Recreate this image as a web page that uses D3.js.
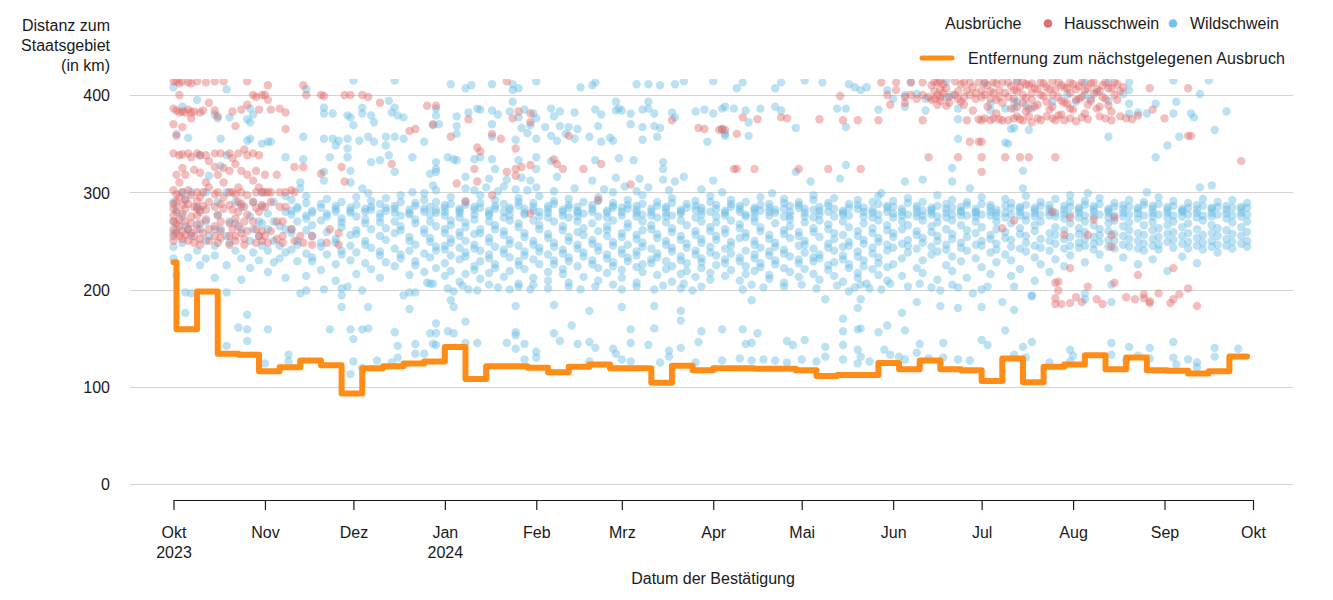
<!DOCTYPE html>
<html><head><meta charset="utf-8">
<script src="https://cdn.jsdelivr.net/npm/d3@7"></script>
<style>
body{margin:0;background:#fff;}
svg{font-family:"Liberation Sans",Arial,sans-serif;}
</style></head><body>
<svg id="chart" width="1333" height="600"></svg>
<script>
// ---------- DATA ----------
const startDate = new Date(2023, 9, 1);
const endDate = new Date(2024, 9, 1);
const yTicks = [0, 100, 200, 300, 400];
const monthLabels = ["Okt","Nov","Dez","Jan","Feb","Mrz","Apr","Mai","Jun","Jul","Aug","Sep","Okt"];
const yearLabels = {0: "2023", 3: "2024"};
const yTitle = ["Distanz zum", "Staatsgebiet", "(in km)"];
const xTitle = "Datum der Bestätigung";

// Entfernung zum nächstgelegenen Ausbruch (day offset from 1 Oct 2023, km)
const distanceDays = [0,1,8,15,22,29,36,43,50,57,64,71,78,85,92,99,106,113,120,127,134,141,148,155,162,169,176,183,190,197,204,211,218,225,232,239,246,253,260,267,274,281,288,295,302,309,316,323,330,337,344,351,358,364];
const distanceKm = [228,159,198,134,133,116,120,127,122,93,119,121,124,126,141,108,121,121,119.5,115,120.5,123,119,119,104,121.5,117,119,119,118.5,118.5,117,111,112,112,124.5,118,127,118,117,106,129,104.5,120.5,123,132.5,118,130,117,116.5,113.5,116,131,131];

// Hausschwein outbreaks: [day offset, [km, ...]]
const hausschwein = [
[0,[414,386,370,340,302,288,283,276,270,262,255,250]],[1,[414,384,358,318,298,290,280,268,258]],
[2,[412,400,382,338,310,295,272,265,255]],[3,[414,383,367,339,325,300,287,278,260,252]],
[4,[382,318,292,283,270,256]],[5,[413,385,340,302,288,262,250]],[6,[412,382,376,336,297,275,268,258]],
[7,[383,323,285,255,248]],[8,[414,340,300,291,283,276,262]],[9,[382,338,320,295,280,268,252,246]],
[10,[384,300,286,258]],[11,[413,338,310,282,272]],[12,[392,332,305,290,262,250]],
[14,[414,384,340,326,298,285,265,255]],[15,[378,318,300,277,248]],[16,[340,288,270,260,253]],
[17,[414,325,310,295,283]],[19,[340,322,300,287,268,255,246]],[20,[383,335,300,282,262]],
[21,[368,329,298,273,255,250]],[22,[340,305,290,280,265]],[23,[385,322,300,288,258]],
[24,[344,285,270,252,246]],[25,[414,390,338,318,297,277,260]],[27,[400,340,312,290,270]],
[28,[398,322,300,284,262,248]],[29,[385,338,305,280,255]],[30,[400,300,287,260,250]],
[31,[400,318,300,285,255]],[32,[410,395,300,248]],[33,[385,300,290,260]],[35,[318,270,252]],
[36,[386,300,285]],[37,[270,255,248]],[38,[382,365,300,285]],[40,[302,262]],[41,[326,300,250]],
[43,[255]],[44,[410,326,248]],[45,[400]],[47,[255,246]],[50,[400,319]],[51,[399]],[52,[248]],
[53,[262]],[56,[246,258]],[57,[326]],[58,[400,311]],[60,[400]],
[64,[400]],[66,[398]],[70,[392]],[74,[329]],[80,[363]],[82,[365]],[86,[389]],[88,[370]],[89,[389]],
[94,[357]],[96,[309]],[99,[290]],[100,[375]],[102,[324]],[103,[346,311]],[104,[342]],[108,[360,297]],
[111,[355]],[113,[414,321]],[115,[376]],[116,[345,324,317]],[117,[383]],[118,[326]],[121,[381,372,328,278]],
[129,[334]],[130,[329]],[132,[324]],[134,[358]],[139,[324]],[144,[292]],[145,[329]],[155,[308]],
[169,[374]],[178,[366]],[180,[365]],[185,[364]],[186,[365]],[187,[364]],[190,[324]],[191,[324,360]],
[193,[377]],[197,[324]],[198,[375]],[206,[377]],[208,[376]],[212,[324]],
[219,[375]],[222,[324]],[226,[399]],[227,[374]],[232,[374]],[233,[324]],[239,[374]],[240,[413]],
[242,[400]],[243,[390]],
[245,[413,405]],[248,[398,392]],[250,[413,400]],[252,[396]],[254,[413,400,374]],[256,[398,336]],
[257,[410,395]],[258,[413,404,396]],[259,[413,400,390]],[260,[414,406,398,394]],[261,[411,402]],
[262,[407,389]],[263,[398,392]],[265,[414,400]],[266,[404,396,336]],[267,[411,393]],[268,[413,398,390]],
[269,[405,374]],[270,[413,400,352]],[271,[408,384]],[272,[402,396]],[273,[413,375,352]],
[274,[405,398,374,352,336,321]],[275,[413,400,376]],[276,[410,388]],[277,[404,396,374]],[278,[413,402,376]],
[279,[412,395,381]],[280,[405,398,375]],[281,[413,392,374,263]],[282,[402,336]],
[283,[413,398,374]],[284,[409,386]],[285,[405,396,376,271]],
[286,[413,404,388,378]],[287,[408,375,336]],[288,[414,400,392,374]],[289,[411,397,383]],[290,[410,386,378,336]],
[291,[412,402,395,372]],[292,[407,388]],[293,[406,390,376]],[294,[413,400,374]],[295,[412,399]],[296,[408,393,378]],
[297,[406,385]],[298,[414,400,388,376,280]],[299,[406,374,336,207,191,185]],[300,[413,398,379,208,199]],[301,[410,394,380,185]],
[302,[408,392,374,256]],[303,[407,391]],[304,[413,402,386,376,274,222,186]],[305,[411,385]],[306,[406,395,373,192]],
[307,[409,396]],[308,[413,398,377,187]],[309,[405,381]],
[310,[407,390,375,256,203]],[311,[412,394]],[312,[413,401,272]],[313,[406,386,190]],[314,[404,388,378]],
[315,[410,398,185]],[316,[413,396,376]],[317,[407,389]],
[318,[407,383,374,256,244]],[319,[413,400,274,207]],[320,[411,395]],[321,[404,378]],[322,[408]],[323,[376,192]],[325,[375]],
[326,[190]],[327,[379,215]],[329,[195,191]],[331,[407,186,188]],[332,[385]],[334,[196]],[336,[376]],
[338,[186]],[339,[190,222]],[341,[195]],[344,[407,358,201]],[345,[358]],[347,[183]],[362,[332]]
];

// Wildschwein outbreaks above 300 km: [day offset, [km, ...]]
const wildschweinOben = [
[0,[408]],[1,[360]],[3,[388,300]],[5,[356]],[6,[300]],[8,[395]],[9,[338]],[11,[300]],[12,[317]],
[14,[380]],[15,[376]],[16,[355,327]],[18,[406,338,300]],[19,[377]],[25,[375,353]],[26,[386,372,355]],
[27,[380]],[30,[350,300]],[32,[352]],[33,[352]],[38,[336]],[43,[310,304]],[44,[357,334]],[45,[406]],
[51,[387,381,355,321,312]],[53,[336]],[54,[381,355]],[55,[348]],[56,[353]],[59,[379,355,345,336]],
[60,[377,322,310]],[61,[415,369]],[63,[353]],[64,[387,381,304]],[66,[357,299]],[67,[379,331]],
[68,[372,352]],[70,[333]],[72,[357,348]],[73,[394,338]],[74,[382]],[75,[415,387,357,321]],[76,[379]],
[78,[377,355]],[81,[336,300]],[85,[352,299]],[87,[319]],[88,[369,307]],[89,[386,379,331,324,321,302]],
[90,[370]],[93,[336]],[94,[411]],[95,[334]],[96,[378,368,360,333]],[99,[407,316,304]],[100,[382]],
[101,[410]],[102,[334,302]],[103,[386]],[104,[385,336]],[106,[305]],[107,[314]],[108,[411,384,370,357,334]],
[109,[324]],[110,[380,301]],[112,[306]],[113,[313]],[114,[383]],[115,[411,405,393]],[116,[354,303]],
[117,[407,377,333]],[118,[366,315]],[119,[385]],[120,[361,302]],[121,[369,312]],[122,[381]],
[123,[414,376,355,336,324,305]],[126,[367]],[128,[386,358,332]],[129,[378,301]],[130,[353,316]],
[131,[383,368]],[133,[360]],[134,[367]],[136,[382,355,304]],[137,[365]],[138,[408]],[141,[357]],
[142,[410,312]],[143,[413,385,333]],[144,[368]],[145,[380,352]],[146,[303]],[148,[356]],[149,[353,300]],
[150,[393,384,315]],[151,[386,335]],[152,[384]],[153,[306]],[155,[381,370]],[156,[333]],[157,[411,301]],
[158,[314]],[159,[385,367,354]],[161,[411,393,386,305]],[163,[381,368]],[164,[357]],[165,[410,366]],
[166,[331,324,313]],[168,[302]],[169,[382]],[170,[411,377,311]],[173,[414,316]],[177,[383]],[179,[303]],
[180,[385]],[181,[352]],[183,[414,381,312]],[186,[386,365,300]],[187,[388,360,358]],[190,[386]],
[191,[407]],[193,[413]],[194,[384]],[195,[372,358]],[199,[386]],[203,[299]],[204,[407,388]],
[206,[413,384]],[211,[366,321]],[214,[415]],[216,[311]],[220,[413]],[225,[386]],[226,[314]],
[228,[386,367,328]],[229,[411]],[231,[408]],[233,[405]],[235,[408]],[239,[385]],[240,[299]],[242,[405]],
[244,[396]],[248,[400,388,311]],[250,[413]],[252,[401]],[254,[313]],[255,[396,384]],[262,[414,398]],
[264,[400,325,311]],[266,[386,375,355]],[270,[304]],[275,[412]],[277,[391,384]],[282,[386,351]],
[283,[350]],[284,[365]],[285,[393,386,366]],[286,[415,393]],[288,[322,304]],[289,[389]],[290,[364]],
[291,[386]],[298,[393]],[303,[400]],[304,[297]],[306,[393]],[309,[413,400]],[310,[299]],[311,[396]],
[313,[403]],[317,[413,394,357]],[322,[401]],[324,[413,405,391,381]],[327,[382]],[330,[381,300]],
[333,[391,336]],[337,[348]],[339,[415,381]],[340,[393]],[341,[357]],[345,[381]],[346,[377]],
[348,[401,305]],[351,[415]],[352,[307]],[353,[364]],[357,[383]]
];

// Wildschwein outbreaks 200-300 km: [day offset, [km, ...]]
const wildschweinMitte = [
[0,[290,270,258,244,232]],[1,[282,262,215]],[3,[275,248]],[4,[293,265]],[5,[262,233]],[6,[255]],
[8,[285,267,240]],[9,[282,262,225]],[11,[270,250,232]],[12,[255]],[14,[262,245,235,212]],[15,[290,276]],
[16,[262]],[18,[255,225]],[19,[270,248]],[21,[290,268,240]],[23,[285,262,232,210]],[26,[275,250,222]],
[27,[290,262,238]],[29,[270,255,230]],[30,[285,268,245]],[32,[278,262,240,218]],[34,[290,270,250,228]],
[36,[265,245,232]],[38,[296,280,262,238,212]],
[40,[292,281,277,262,258,241]],[42,[285,283,270,250,246,229]],[45,[296,289,276,273,261,237,214]],
[47,[281,279,266,255,233,229]],[50,[288,284,271,248,244,220]],[52,[293,278,275,259,236]],
[55,[286,283,280,252,248,226,209]],[57,[290,273,269,264,240,236]],[60,[284,281,279,256,245,230]],
[62,[295,287,275,261,257,238,216]],[65,[283,280,272,268,250,246,227]],[67,[291,285,282,262,243,221]],
[70,[288,278,274,269,255,239,235,212]],[72,[294,284,281,263,251,228]],[75,[286,283,279,270,258,242,224]],
[77,[297,290,276,265,261,236,232]],[80,[282,279,277,254,250,240,215]],[82,[289,286,272,268,246,229,225]],
[85,[292,283,280,262,258,237,218]],[87,[285,277,270,253,249,233,206]],[89,[290,282,279,265,244,240,222]],
[92,[287,284,280,276,262,258,245,241,227,214]],[94,[295,288,271,266,252,248,235,219]],
[97,[283,281,279,274,259,255,243,231,208]],[99,[291,287,269,264,250,238,234,216]],
[102,[285,282,277,272,257,246,242,224,220]],[104,[297,289,284,262,258,240,229,211]],
[107,[281,278,276,270,253,249,236,232,217]],[109,[292,286,283,266,262,244,226,222]],
[112,[288,280,274,260,256,241,237,213]],[114,[284,282,276,271,251,247,233,219]],
[117,[294,290,286,268,264,245,229,225,206]],[119,[283,279,277,258,254,239,235,221]],
[122,[289,285,281,271,250,246,231,212]],[124,[296,280,275,266,262,243,239,226]],
[127,[286,283,279,274,257,253,236,218,209]],[129,[291,288,270,248,244,230,226]],
[132,[282,280,276,265,261,241,237,221,216]],[134,[293,287,284,274,254,250,233,229,207]],
[137,[285,281,279,275,270,259,246,242,224]],[139,[290,278,263,256,238,234,213]],
[142,[287,283,280,268,251,247,230,226]],[144,[295,291,275,260,244,240,222,209]],
[147,[281,279,274,265,261,255,236,232,217]],[149,[289,286,284,271,249,245,228,224]],
[152,[284,280,276,258,254,241,237,220,212]],[154,[292,287,283,268,264,246,233,229]],
[157,[286,282,279,275,256,252,239,235,223,207]],[159,[297,288,277,270,261,248,244,226,218]],
[162,[283,280,276,266,262,242,231,227]],[164,[290,286,274,257,253,237,233,215]],
[167,[285,283,279,275,269,250,246,229,221]],[169,[294,289,276,263,259,243,239,224,208]],
[172,[282,280,278,271,255,251,234,230,216]],[174,[288,284,266,247,243,227,219]],
[177,[291,286,282,274,260,256,240,236,213]],[179,[284,281,277,270,252,248,232,228,222]],
[182,[296,290,280,264,260,244,238,217,210]],[184,[287,283,275,269,255,251,235,225]],
[187,[281,279,276,262,258,242,231,227,214]],[189,[292,288,285,271,249,245,237,220]],
[192,[286,283,280,267,263,253,233,229,209]],[194,[290,277,275,258,254,240,224,216]],
[197,[284,282,279,274,270,250,246,236,232,219]],[199,[295,287,281,264,260,243,227,223]],
[202,[288,284,280,276,256,252,239,235,215,211]],[204,[282,279,268,248,244,230,226]],
[207,[293,289,283,275,261,257,241,237,222,207]],[209,[286,280,276,272,265,253,234,218]],
[212,[290,287,284,259,255,245,231,227,213]],[214,[283,279,275,269,250,246,238,221]],
[217,[297,292,282,274,263,259,242,233,229,216]],[219,[285,281,277,271,254,236,232,210]],
[222,[289,286,280,267,262,247,243,225,220]],[224,[294,283,275,258,252,240,228,214]],
[227,[281,279,277,270,256,244,235,231,208]],[229,[288,284,276,264,249,245,226,222]],
[232,[292,287,283,260,255,239,234,217,212]],[234,[284,280,275,268,251,247,230,224]],
[237,[290,282,279,274,263,258,243,237,221]],[239,[296,288,277,271,253,249,233,227,215]],
[242,[286,284,280,266,261,246,240,223,209]],
[244,[291,285,278,274,258,254,243,226]],[247,[283,280,276,270,262,247,232,214]],
[249,[294,289,277,266,251,245,238]],[252,[286,283,279,275,260,256,242,222]],
[254,[290,281,276,271,253,248,230,217]],[257,[284,282,280,277,265,259,244,236]],
[259,[297,286,275,269,255,250,239,210]],[262,[288,283,279,274,262,246,241,225]],
[264,[292,284,277,271,257,252,234,219]],[267,[285,281,280,276,266,248,243,229]],
[269,[290,287,276,261,254,240,212]],[272,[283,280,279,275,270,258,246,232]],
[274,[295,288,277,264,250,245,223]],[277,[287,284,280,276,256,252,238,216]],
[279,[282,279,275,270,262,247,241,228]],[282,[293,286,279,274,259,253,236]],
[284,[289,284,277,268,251,244,230,214]],[287,[285,283,280,276,263,257,242,221]],
[289,[296,287,276,271,255,248,239]],[292,[284,282,279,275,266,260,245,233,209]],
[294,[290,286,277,270,252,243,226]],[297,[287,283,280,276,258,250,240,218]],
[299,[293,279,275,264,256,247,231]],[302,[286,282,278,273,261,252,242,224]],
[304,[290,285,277,268,254,245,235]],
[307,[284,282,279,274,263,257,248,243]],[309,[291,287,276,270,259,252,245,228]],
[312,[286,283,280,275,266,254,247,241]],[314,[294,288,277,262,256,249,236]],
[317,[283,281,279,274,268,260,251,244,222]],[319,[289,285,276,271,257,250,242]],
[322,[287,283,279,275,265,255,246,233]],[324,[292,285,277,269,261,252,244]],
[327,[284,282,278,273,258,250,242,226]],[329,[290,287,276,266,256,247,240]],
[332,[286,283,279,275,269,261,252,245,231]],[334,[295,288,277,263,254,246,241]],
[337,[285,282,279,274,266,257,249,219]],[339,[291,286,276,270,259,251,243]],
[342,[283,281,280,275,264,255,247,234]],[344,[289,284,277,268,258,249,242]],
[347,[287,282,279,274,262,253,245,227]],[349,[293,286,276,271,256,248,241]],
[352,[284,283,279,275,266,258,250,244]],[354,[290,285,277,263,255,246,238]],
[357,[286,282,278,273,261,252,245]],[359,[292,284,276,269,257,249,242]],
[362,[285,283,279,275,264,255,247]],[364,[289,284,277,270,259,250,244]]
];

// Wildschwein outbreaks below 210 km: [day offset, [km, ...]]
const wildschweinUnten = [
[4,[197,176]],[6,[196]],[18,[197,142]],[22,[161]],[25,[174,159,147]],[31,[124]],[32,[159]],[39,[133,126]],
[43,[196]],[45,[199]],[51,[200]],[53,[159]],[57,[201,194,182]],[59,[203]],[60,[159,113]],[61,[149,126]],
[64,[199,159,119]],[66,[182,160]],[69,[127]],[74,[125]],[75,[156]],[76,[142,130]],[78,[194]],[80,[197,180]],
[82,[197,144,134]],[85,[134]],[86,[207]],[87,[155]],[88,[206,144]],[89,[165,155,143]],[93,[201,157]],
[94,[189]],[95,[198,182,155]],[98,[204]],[99,[167,145]],[100,[200]],[103,[199,145]],[107,[205]],[110,[202]],
[113,[145]],[114,[200]],[116,[183,156,153,139]],[117,[203]],[119,[144,128]],[121,[200]],[122,[205]],
[123,[136,130]],[127,[201]],[129,[184,155]],[131,[147]],[134,[203]],[135,[163]],[137,[144]],[138,[200]],
[141,[178,146,126]],[143,[203,140]],[149,[205,139]],[150,[134]],[152,[200,182,128]],[155,[159,145,126]],
[157,[203]],[161,[143]],[163,[200,183,160]],[165,[125]],[166,[204]],[168,[137,131]],[172,[201,178,168,140]],
[173,[206]],[176,[199]],[177,[125]],[178,[146]],[179,[157,203]],[186,[159,127]],[192,[129]],[193,[200,159]],
[194,[144]],[196,[205,189,145,127]],[198,[155]],[200,[202,128]],[204,[127]],[207,[203]],[208,[147,125]],
[210,[143]],[213,[205,128]],[214,[148]],[218,[201,126]],[221,[190,141,131]],[225,[204]],[227,[170,157,143,128]],
[229,[198]],[231,[202]],[232,[181,159,138,124]],[235,[206]],
[233,[205,190,160,131]],[236,[201,126]],[239,[156]],[240,[200]],[241,[138]],[242,[163]],[243,[206,133]],
[246,[131]],[247,[176]],[248,[158,128]],[249,[203]],[252,[187,135]],[253,[206,144]],[256,[129]],[257,[202]],
[260,[199,183]],[261,[145,130]],[264,[205]],[266,[202,181,128]],[270,[127]],[271,[196]],[274,[200,182,148]],
[276,[203,143]],[281,[187]],[282,[158]],[285,[203,179,133]],[288,[141]],[289,[130]],[291,[194,193,146]],
[297,[125]],[304,[138,126]],[305,[132]],[309,[196,190]],[318,[205,187,145,133]],[323,[127]],[324,[141]],
[327,[132]],[331,[140,129]],[339,[146,130]],[340,[123]],[344,[128]],[347,[120,125]],[353,[140,131]],[361,[139]]
];

// ---------- CHART ----------
const colors = {haus: "#e06363", wild: "#66bbe4", line: "#ff8c17", grid: "#d4d4d4", text: "#1a1a1a"};
const svg = d3.select("#chart");
const dayToDate = d => d3.timeDay.offset(startDate, d);

const x = d3.scaleTime().domain([startDate, endDate]).range([173.5, 1253]);
const y = d3.scaleLinear().domain([0, 400]).range([484, 95]);

svg.append("defs").append("clipPath").attr("id", "plotClip")
  .append("rect").attr("x", 120).attr("y", 79).attr("width", 1190).attr("height", 420);

// gridlines
svg.append("g").selectAll("line").data(yTicks).join("line")
  .attr("x1", 130).attr("x2", 1293)
  .attr("y1", d => Math.round(y(d)) + 0.5).attr("y2", d => Math.round(y(d)) + 0.5)
  .attr("stroke", colors.grid).attr("stroke-width", 1);

// y tick labels
svg.append("g").selectAll("text").data(yTicks).join("text")
  .attr("x", 110).attr("y", d => y(d)).attr("dy", "0.4em")
  .attr("text-anchor", "end").attr("font-size", 16).attr("fill", colors.text)
  .text(d => d);

// y title
svg.append("g").selectAll("text").data(yTitle).join("text")
  .attr("x", 110).attr("y", (d, i) => 31 + i * 20)
  .attr("text-anchor", "end").attr("font-size", 16).attr("fill", colors.text)
  .text(d => d);

// points
const flat = arr => arr.flatMap(([d, kms]) => kms.map(km => ({date: dayToDate(d), km})));
const wildPts = flat(wildschweinMitte).concat(flat(wildschweinOben), flat(wildschweinUnten));
const hausPts = flat(hausschwein);

const plot = svg.append("g").attr("clip-path", "url(#plotClip)");
plot.append("g").selectAll("circle").data(wildPts).join("circle")
  .attr("cx", d => x(d.date)).attr("cy", d => y(d.km)).attr("r", 4.2)
  .attr("fill", colors.wild).attr("fill-opacity", 0.44);
plot.append("g").selectAll("circle").data(hausPts).join("circle")
  .attr("cx", d => x(d.date)).attr("cy", d => y(d.km)).attr("r", 4.2)
  .attr("fill", colors.haus).attr("fill-opacity", 0.42);

// distance step line
const lineData = distanceDays.map((d, i) => ({date: dayToDate(d), km: distanceKm[i]}));
svg.append("path").datum(lineData)
  .attr("d", d3.line().x(d => x(d.date)).y(d => y(d.km)).curve(d3.curveStepAfter))
  .attr("fill", "none").attr("stroke", colors.line).attr("stroke-width", 6)
  .attr("stroke-linejoin", "round").attr("stroke-linecap", "round");

// x axis
const monthTicks = d3.timeMonth.range(startDate, d3.timeDay.offset(endDate, 1));
const xAxis = d3.axisBottom(x).tickValues(monthTicks).tickSize(10).tickSizeOuter(0)
  .tickFormat((d, i) => monthLabels[i]);
const gx = svg.append("g").attr("transform", "translate(0,500)").call(xAxis);
gx.select(".domain").attr("stroke", colors.text).attr("stroke-width", 1.2);
gx.selectAll(".tick line").attr("stroke", colors.text).attr("stroke-width", 1.2);
gx.selectAll(".tick text").attr("font-size", 16).attr("font-family", "Liberation Sans, Arial, sans-serif")
  .attr("fill", colors.text).attr("y", 38).attr("dy", null);
gx.selectAll(".tick text").each(function(d, i) {
  if (yearLabels[i]) {
    d3.select(this).append("tspan").attr("x", 0).attr("dy", 20).text(yearLabels[i]);
  }
});
svg.append("text").attr("x", 713).attr("y", 584).attr("text-anchor", "middle")
  .attr("font-size", 16).attr("fill", colors.text).text(xTitle);

// legend
const lg = svg.append("g").attr("font-size", 16).attr("fill", colors.text);
lg.append("text").attr("x", 945).attr("y", 29).text("Ausbrüche");
lg.append("circle").attr("cx", 1048).attr("cy", 23.5).attr("r", 4.3).attr("fill", "#e07070");
lg.append("text").attr("x", 1064).attr("y", 29).text("Hausschwein");
lg.append("circle").attr("cx", 1173).attr("cy", 23.5).attr("r", 4.3).attr("fill", "#74c2e8");
lg.append("text").attr("x", 1190).attr("y", 29).text("Wildschwein");
lg.append("line").attr("x1", 922).attr("x2", 952).attr("y1", 58).attr("y2", 58)
  .attr("stroke", colors.line).attr("stroke-width", 5).attr("stroke-linecap", "round");
lg.append("text").attr("x", 968).attr("y", 64).attr("textLength", 317).text("Entfernung zum nächstgelegenen Ausbruch");
</script>
</body></html>
